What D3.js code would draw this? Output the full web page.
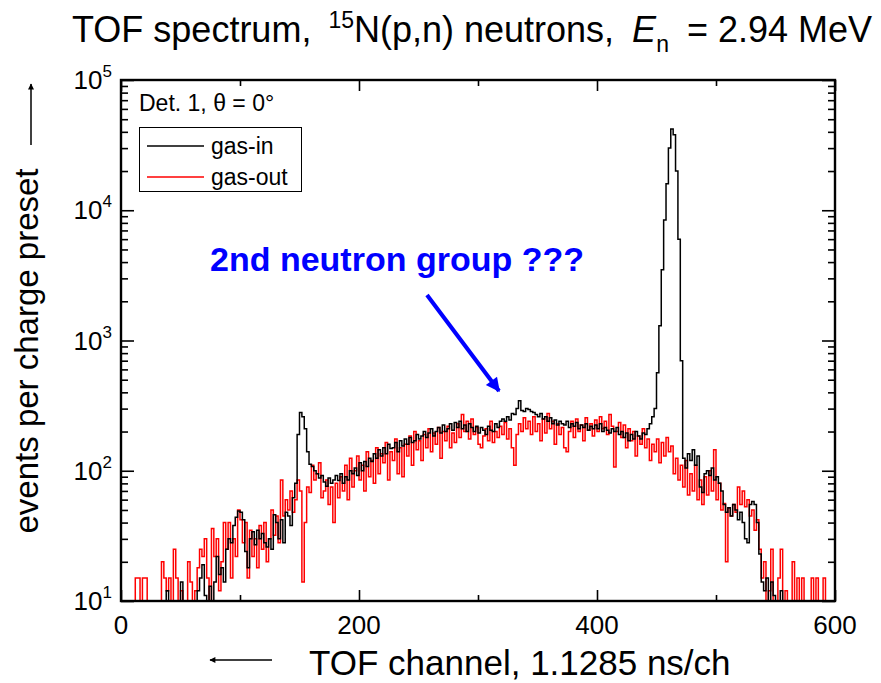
<!DOCTYPE html>
<html>
<head>
<meta charset="utf-8">
<script src="https://cdn.jsdelivr.net/npm/d3@7"></script>
<style>
  body { margin: 0; background: #fff; }
  text { font-family: "Liberation Sans", Arial, sans-serif; fill: #000; }
</style>
</head>
<body>
<svg id="chart" width="881" height="683"></svg>
<script>
// TOF spectrum, 15N(p,n) neutrons - gas-in vs gas-out histograms (log counts)

// channel width of one histogram bin
const binWidth = 2;

// gas-in counts, bins of 2 channels starting at channel 0 (10 bins per row)
const gasIn = [
  0, 0, 0, 0, 0, 0, 10, 0, 0, 10,
  0, 0, 10, 0, 0, 0, 0, 0, 10, 12,
  10, 0, 0, 0, 10, 14, 0, 0, 0, 10,
  0, 0, 12, 15, 19, 11, 0, 13, 10, 14,
  22, 16, 18, 14, 25, 30, 28, 38, 44, 49,
  48, 42, 24, 18, 30, 34, 27, 35, 30, 33,
  28, 26, 30, 25, 46, 40, 30, 42, 28, 48,
  45, 38, 62, 80, 190, 280, 260, 210, 140, 112,
  108, 100, 95, 88, 92, 82, 76, 88, 80, 85,
  92, 84, 95, 80, 90, 85, 100, 95, 105, 92,
  115, 100, 118, 108, 125, 118, 135, 125, 145, 130,
  150, 135, 160, 148, 150, 165, 140, 170, 155, 175,
  160, 180, 165, 170, 190, 175, 185, 200, 180, 195,
  210, 185, 200, 215, 195, 225, 200, 210, 230, 205,
  235, 215, 240, 210, 225, 200, 230, 215, 200, 220,
  195, 215, 205, 190, 220, 205, 200, 230, 215, 240,
  250, 240, 260, 245, 275, 270, 300, 345, 290, 285,
  300, 295, 285, 280, 270, 260, 275, 250, 260, 240,
  255, 230, 245, 225, 240, 230, 225, 240, 215, 230,
  220, 235, 210, 225, 215, 230, 205, 220, 210, 225,
  210, 230, 200, 215, 205, 195, 210, 200, 215, 190,
  200, 180, 195, 170, 190, 175, 200, 185, 175, 195,
  190, 210, 230, 260, 300, 565, 1300, 3500, 8400, 16000,
  30000, 42000, 38000, 20000, 6000, 700, 125, 105, 135, 120,
  145, 110, 130, 75, 68, 95, 100, 92, 105, 85,
  90, 80, 70, 55, 48, 52, 45, 55, 50, 42,
  48, 40, 30, 28, 55, 58, 55, 40, 23, 14,
  12, 15, 10, 14, 11, 10, 0, 12, 0, 10,
  0, 0, 0, 0, 0, 0, 10, 0, 0, 0,
  0, 0, 0, 0, 0, 0, 0, 0, 0, 0
];

// gas-out counts, same binning
const gasOut = [
  0, 0, 0, 0, 0, 0, 15, 15, 0, 15,
  15, 0, 0, 0, 0, 0, 0, 20, 15, 12,
  15, 0, 25, 15, 0, 12, 0, 0, 20, 14,
  0, 12, 18, 25, 22, 30, 15, 10, 36, 22,
  30, 12, 20, 40, 25, 40, 15, 30, 22, 50,
  42, 28, 40, 15, 35, 22, 30, 18, 38, 25,
  40, 20, 30, 50, 32, 45, 28, 85, 45, 60,
  50, 70, 48, 60, 85, 70, 14, 40, 75, 68,
  110, 85, 95, 115, 62, 70, 85, 55, 75, 40,
  80, 62, 90, 70, 110, 60, 125, 75, 100, 130,
  85, 110, 70, 140, 90, 120, 80, 150, 95, 135,
  115, 165, 85, 140, 120, 175, 95, 150, 90, 160,
  130, 185, 110, 200, 145, 170, 120, 190, 150, 210,
  140, 195, 160, 215, 125, 200, 170, 220, 150, 195,
  165, 230, 180, 270, 200, 240, 175, 250, 190, 215,
  160, 150, 185, 210, 170, 240, 165, 200, 180, 220,
  190, 235, 175, 210, 150, 110, 190, 230, 200, 255,
  210, 240, 190, 260, 200, 230, 170, 250, 195, 275,
  210, 240, 160, 230, 190, 215, 150, 140, 200, 240,
  180, 250, 200, 225, 170, 255, 205, 230, 185, 245,
  200, 260, 210, 240, 190, 270, 220, 107, 200, 235,
  180, 225, 150, 210, 170, 200, 130, 185, 160, 210,
  150, 175, 120, 160, 140, 175, 115, 165, 130, 180,
  140, 155, 95, 125, 85, 110, 75, 120, 65, 95,
  70, 110, 60, 85, 55, 90, 65, 100, 70, 145,
  60, 80, 50, 56, 20, 52, 45, 55, 48, 75,
  55, 70, 53, 60, 45, 50, 35, 42, 25, 15,
  20, 0, 12, 25, 10, 0, 15, 25, 0, 12,
  0, 0, 20, 0, 15, 0, 15, 0, 0, 0,
  15, 0, 15, 0, 0, 15, 0, 0, 0, 0
];

const xMajorTicks = [0, 200, 400, 600];
const xMinorTicks = [100, 300, 500];
const yDecades = [1, 2, 3, 4, 5];
const seriesNames = ['gas-in', 'gas-out'];
const seriesColors = ['#000000', '#ff0000'];

/*
 * Layout
 */
const plot = { left: 121, right: 835, top: 80, bottom: 601 };

const svg = d3.select('#chart');

const x = d3.scaleLinear().domain([0, 600]).range([plot.left, plot.right]);
const y = d3.scaleLog().domain([10, 1e5]).range([plot.bottom, plot.top]);

// Zero-count bins are pushed below the frame and clipped away
const yv = (v) => (v > 0 ? y(v) : plot.bottom + 30);

svg.append('defs').append('clipPath').attr('id', 'plotClip')
  .append('rect')
  .attr('x', plot.left).attr('y', plot.top)
  .attr('width', plot.right - plot.left)
  .attr('height', plot.bottom - plot.top);

// Build step points: one point per bin start, plus the closing edge
function toSteps(values) {
  const pts = values.map((v, i) => [i * binWidth, v]);
  pts.push([values.length * binWidth, values[values.length - 1]]);
  return pts;
}

const line = d3.line()
  .x((d) => x(d[0]))
  .y((d) => yv(d[1]))
  .curve(d3.curveStepAfter);

const dataG = svg.append('g').attr('clip-path', 'url(#plotClip)');

// red first so black sits on top
dataG.append('path')
  .datum(toSteps(gasOut))
  .attr('fill', 'none')
  .attr('stroke', seriesColors[1])
  .attr('stroke-width', 1.5)
  .attr('d', line);

dataG.append('path')
  .datum(toSteps(gasIn))
  .attr('fill', 'none')
  .attr('stroke', seriesColors[0])
  .attr('stroke-width', 1.5)
  .attr('d', line);

/*
 * Axes (ticks inward on all four sides)
 */
const yMinor = [];
yDecades.slice(0, -1).forEach((e) => {
  for (let m = 2; m <= 9; m++) yMinor.push(m * Math.pow(10, e));
});
const yMajor = yDecades.map((e) => Math.pow(10, e));

const axG = svg.append('g').attr('class', 'axes');

function strip(g) {
  g.select('.domain').remove();
  g.selectAll('line').attr('stroke', '#000').attr('stroke-width', 1.6);
  g.selectAll('text').remove();
}

axG.append('g').attr('transform', `translate(0,${plot.bottom})`)
  .call(d3.axisBottom(x).tickValues(xMajorTicks).tickSize(-11)).call(strip);
axG.append('g').attr('transform', `translate(0,${plot.bottom})`)
  .call(d3.axisBottom(x).tickValues(xMinorTicks).tickSize(-6)).call(strip);
axG.append('g').attr('transform', `translate(0,${plot.top})`)
  .call(d3.axisTop(x).tickValues(xMajorTicks).tickSize(-11)).call(strip);
axG.append('g').attr('transform', `translate(0,${plot.top})`)
  .call(d3.axisTop(x).tickValues(xMinorTicks).tickSize(-6)).call(strip);

axG.append('g').attr('transform', `translate(${plot.left},0)`)
  .call(d3.axisLeft(y).tickValues(yMajor).tickSize(-13)).call(strip);
axG.append('g').attr('transform', `translate(${plot.left},0)`)
  .call(d3.axisLeft(y).tickValues(yMinor).tickSize(-7)).call(strip);
axG.append('g').attr('transform', `translate(${plot.right},0)`)
  .call(d3.axisRight(y).tickValues(yMajor).tickSize(-13)).call(strip);
axG.append('g').attr('transform', `translate(${plot.right},0)`)
  .call(d3.axisRight(y).tickValues(yMinor).tickSize(-7)).call(strip);

// frame
svg.append('rect')
  .attr('x', plot.left).attr('y', plot.top)
  .attr('width', plot.right - plot.left)
  .attr('height', plot.bottom - plot.top)
  .attr('fill', 'none')
  .attr('stroke', '#000')
  .attr('stroke-width', 2.4);

// x tick labels
svg.append('g').selectAll('text')
  .data(xMajorTicks)
  .join('text')
  .attr('x', (d) => x(d))
  .attr('y', 634)
  .attr('text-anchor', 'middle')
  .style('font-size', '26px')
  .text((d) => d);

// y tick labels: 10 with a raised exponent
const yLab = svg.append('g').selectAll('text')
  .data(yDecades)
  .join('text')
  .attr('x', 112)
  .attr('y', (d) => y(Math.pow(10, d)) + 9)
  .attr('text-anchor', 'end')
  .style('font-size', '26px');
yLab.append('tspan').text('10');
yLab.append('tspan').attr('dy', -12).style('font-size', '17px').text((d) => d);

/*
 * Titles and axis labels
 */
const title = svg.append('text')
  .attr('x', 72).attr('y', 42)
  .style('font-size', '36px');
title.append('tspan').text('TOF spectrum, ');
title.append('tspan').attr('dx', 7).attr('dy', -14).style('font-size', '23px').text('15');
title.append('tspan').attr('dy', 14).text('N(p,n) neutrons, ');
title.append('tspan').attr('dx', 8).style('font-style', 'italic').text('E');
title.append('tspan').attr('dy', 10).style('font-size', '23px').text('n');
title.append('tspan').attr('dx', 18).attr('dy', -10).text('= 2.94 MeV');

// x label with leftward arrow
svg.append('text')
  .attr('x', 309).attr('y', 675)
  .style('font-size', '35px')
  .text('TOF channel, 1.1285 ns/ch');

const arrowDefs = svg.select('defs');
arrowDefs.append('marker')
  .attr('id', 'headBlack')
  .attr('viewBox', '0 0 10 10')
  .attr('refX', 9).attr('refY', 5)
  .attr('markerWidth', 10).attr('markerHeight', 6)
  .attr('markerUnits', 'userSpaceOnUse')
  .attr('orient', 'auto')
  .append('path').attr('d', 'M0,0 L10,5 L0,10 Z').attr('fill', '#000');

svg.append('line')
  .attr('x1', 272).attr('y1', 660).attr('x2', 210).attr('y2', 660)
  .attr('stroke', '#000').attr('stroke-width', 1.5)
  .attr('marker-end', 'url(#headBlack)');

// y label (rotated) with upward arrow
svg.append('text')
  .attr('transform', 'translate(38,351) rotate(-90)')
  .attr('text-anchor', 'middle')
  .style('font-size', '33px')
  .text('events per charge preset');

svg.append('line')
  .attr('x1', 31).attr('y1', 145).attr('x2', 31).attr('y2', 84)
  .attr('stroke', '#000').attr('stroke-width', 1.5)
  .attr('marker-end', 'url(#headBlack)');

/*
 * Legend
 */
svg.append('text')
  .attr('x', 139).attr('y', 111)
  .style('font-size', '23px')
  .text('Det. 1, \u03b8 = 0\u00b0');

svg.append('rect')
  .attr('x', 139.5).attr('y', 127.5)
  .attr('width', 162).attr('height', 64)
  .attr('fill', '#fff')
  .attr('stroke', '#000')
  .attr('stroke-width', 1);

const legendRows = [146, 177];
const leg = svg.append('g').selectAll('g')
  .data(seriesNames)
  .join('g')
  .attr('transform', (d, i) => `translate(0,${legendRows[i]})`);
leg.append('line')
  .attr('x1', 147).attr('x2', 204)
  .attr('stroke', (d, i) => seriesColors[i])
  .attr('stroke-width', 1.5);
leg.append('text')
  .attr('x', 211).attr('y', 8)
  .style('font-size', '23px')
  .text((d) => d);

/*
 * Annotation
 */
svg.append('text')
  .attr('x', 210).attr('y', 271)
  .style('font-size', '34px')
  .style('font-weight', 'bold')
  .style('fill', '#0000ff')
  .text('2nd neutron group ???');

arrowDefs.append('marker')
  .attr('id', 'headBlue')
  .attr('viewBox', '0 0 10 10')
  .attr('refX', 9).attr('refY', 5)
  .attr('markerWidth', 20).attr('markerHeight', 14)
  .attr('markerUnits', 'userSpaceOnUse')
  .attr('orient', 'auto')
  .append('path').attr('d', 'M0,0 L10,5 L0,10 Z').attr('fill', '#0000ff');

svg.append('line')
  .attr('x1', 427).attr('y1', 295).attr('x2', 499).attr('y2', 391)
  .attr('stroke', '#0000ff').attr('stroke-width', 4)
  .attr('marker-end', 'url(#headBlue)');
</script>
</body>
</html>
